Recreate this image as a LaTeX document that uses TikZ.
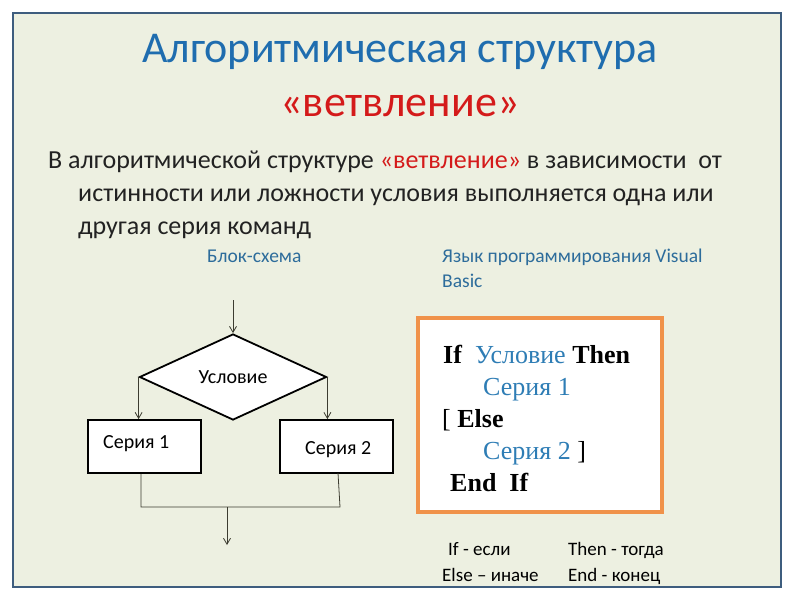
\documentclass[tikz,border=0pt]{standalone}
\usepackage{fontspec}
\setmainfont{Carlito}
\newfontfamily\codefont{Liberation Serif}
\usetikzlibrary{shapes.geometric,arrows.meta}
\definecolor{bgc}{HTML}{EDF0E1}
\definecolor{framec}{HTML}{3E5D7E}
\definecolor{titleblue}{HTML}{1F6DAF}
\definecolor{titlered}{HTML}{D41A1A}
\definecolor{labelblue}{HTML}{2D6C9B}
\definecolor{codeblue}{HTML}{2E7DB5}
\definecolor{orangec}{HTML}{F0924A}
\definecolor{linec}{HTML}{3C3C30}
\definecolor{textc}{HTML}{222222}
\tikzset{
  flowline/.style={draw=linec, line width=0.8pt},
  flowarrow/.style={flowline, -{Straight Barb[length=6pt,width=7pt]}},
  stepbox/.style={draw=black, line width=1.8pt, fill=white, minimum width=113pt, minimum height=53pt, inner sep=0pt},
  bodytxt/.style={anchor=base west, inner sep=0pt, font=\fontsize{26}{30}\selectfont, text=textc},
  labeltxt/.style={anchor=base west, inner sep=0pt, font=\fontsize{19.5}{22}\selectfont, text=labelblue},
  codetxt/.style={anchor=base west, inner sep=0pt, font=\codefont\fontsize{26}{30}\selectfont},
  flowtxt/.style={inner sep=0pt, font=\fontsize{20}{24}\selectfont},
  smalltxt/.style={anchor=base west, inner sep=0pt, font=\fontsize{19}{22}\selectfont, text=black},
}
\begin{document}
\begin{tikzpicture}[x=1pt,y=-1pt]
\useasboundingbox (0,0) rectangle (800,600);
\fill[white] (0,0) rectangle (800,600);
\draw[framec, line width=2pt, fill=bgc] (13,13) rectangle (781,587);
% title
\node[inner sep=0pt, anchor=base, font=\fontsize{44}{48}\selectfont, text=titleblue] (title1) at (400,62) {Алгоритмическая структура};
\node[inner sep=0pt, anchor=base, font=\fontsize{44}{48}\selectfont, text=titlered] (title2) at (400,116) {«ветвление»};
% body
\node[bodytxt] (b1) at (48,168) {В алгоритмической структуре \textcolor{titlered}{«ветвление»} в зависимости\ \ от};
\node[bodytxt] (b2) at (78,201) {истинности или ложности условия выполняется одна или};
\node[bodytxt] (b3) at (78,234) {другая серия команд};
% labels
\node[labeltxt] (l1) at (207,262) {Блок-схема};
\node[labeltxt] (l2) at (442,262) {Язык программирования Visual};
\node[labeltxt] (l3) at (442,287) {Basic};
% flowchart
\coordinate (start) at (233,300);
\node[diamond, draw=black, line width=1.8pt, fill=white, minimum width=187pt, minimum height=86pt, inner sep=0pt, font=\fontsize{20}{24}\selectfont] (cond) at (233,377) {Условие};
\node[stepbox] (s1) at (144.5,446.5) {};
\node[flowtxt, anchor=base west] (s1t) at (103,448) {Серия 1};
\node[stepbox] (s2) at (336.5,446.5) {};
\node[flowtxt, anchor=base west] (s2t) at (305,454) {Серия 2};
\draw[flowarrow] (start) -- (cond.north);
\draw[flowarrow] (cond.west) -- (cond.west |- s1.north);
\draw[flowarrow] (cond.east) -- (cond.east |- s2.north);
\coordinate (j1) at (141,507);
\coordinate (j2) at (340,507);
\coordinate (merge) at (227,507);
\coordinate (end) at (227,545);
\draw[flowline] (s1.south -| j1) -- (j1) -- (j2) -- (338,473);
\draw[flowarrow] (merge) -- (end);
% code box
\node[draw=orangec, line width=3.5pt, fill=white, minimum width=244pt, minimum height=194pt, inner sep=0pt] (code) at (540,415) {};
\node[codetxt] (c1) at (443,363) {\textbf{If}\ \ \textcolor{codeblue}{Условие} \textbf{Then}};
\node[codetxt, text=codeblue] (c2) at (483,395) {Серия 1};
\node[codetxt] (c3) at (442,427) {[ \textbf{Else}};
\node[codetxt] (c4) at (483,459) {\textcolor{codeblue}{Серия 2} ]};
\node[codetxt] (c5) at (450,491) {\textbf{End\ \ If}};
% bottom
\node[smalltxt] (k1) at (448,555) {If - если};
\node[smalltxt] (k2) at (568,555) {Then - тогда};
\node[smalltxt] (k3) at (442,581) {Else – иначе};
\node[smalltxt] (k4) at (568,581) {End - конец};
\end{tikzpicture}
\end{document}
